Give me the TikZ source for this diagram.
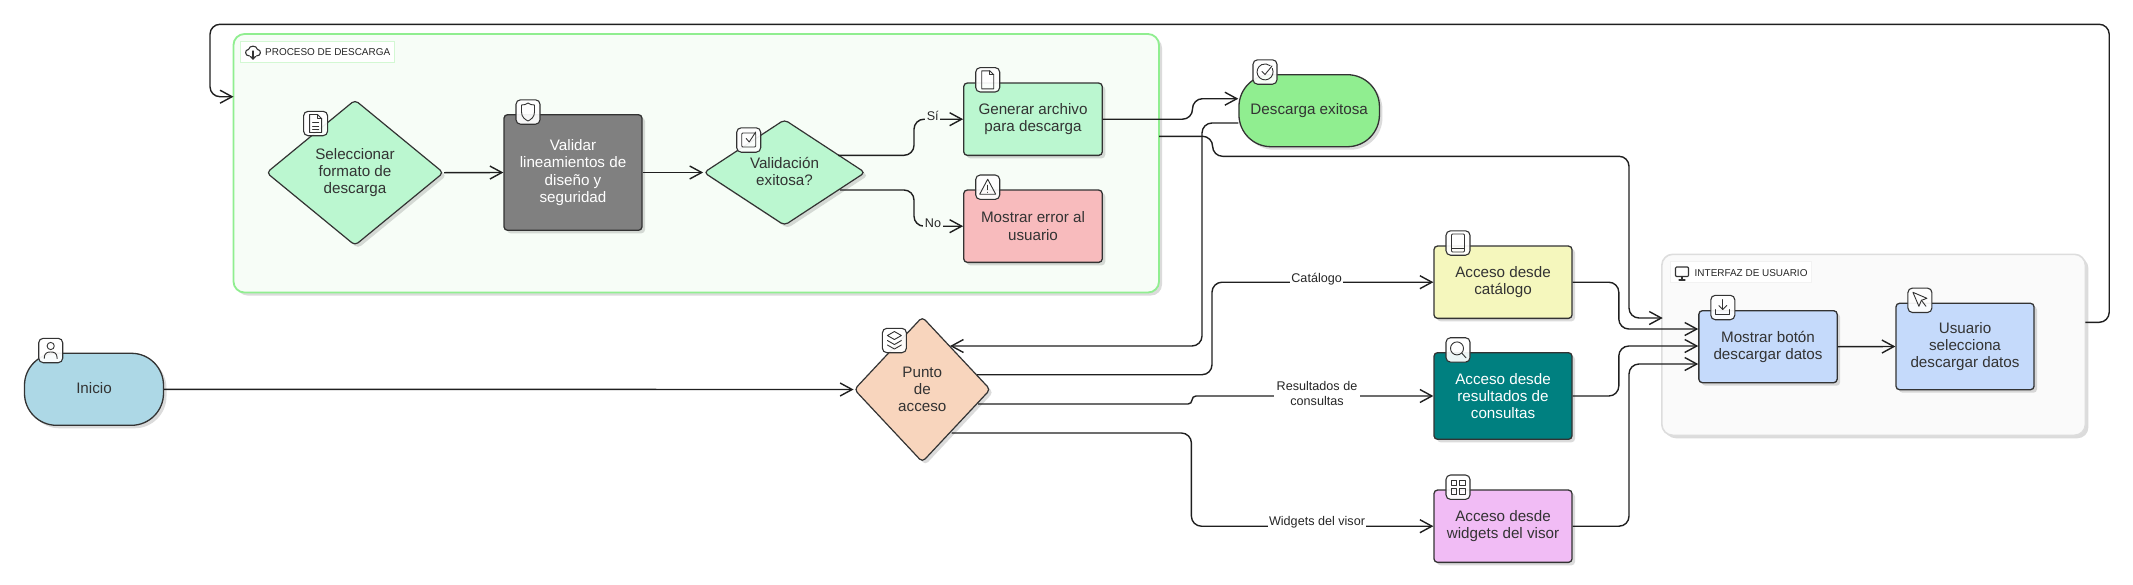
\documentclass[tikz,border=0pt]{standalone}
\usepackage{fontspec}
\setmainfont{Liberation Sans}
\usetikzlibrary{shapes.geometric,arrows.meta,shadows,calc}
\definecolor{ink}{HTML}{333333}
\definecolor{grpg}{HTML}{F7FDF7}
\definecolor{grpb}{HTML}{90EE90}
\definecolor{grph}{HTML}{FAFAFA}
\definecolor{grpe}{HTML}{DDDDDD}
\definecolor{mint}{HTML}{BBF7D0}
\definecolor{grayb}{HTML}{808080}
\definecolor{rosec}{HTML}{F8BBBD}
\definecolor{limec}{HTML}{90EE90}
\definecolor{lemon}{HTML}{F5F7BD}
\definecolor{tealc}{HTML}{008080}
\definecolor{orch}{HTML}{F1BCF5}
\definecolor{sky}{HTML}{C5DAFB}
\definecolor{peach}{HTML}{F8D5BD}
\definecolor{lblue}{HTML}{ADD8E6}
\tikzset{
 softshadow/.style={drop shadow={shadow xshift=3pt,shadow yshift=-3pt,opacity=.14,fill=black}},
 txt/.style={font=\fontsize{15.2}{17.3}\selectfont,text=ink,align=center,inner sep=0pt},
 boxn/.style={txt,draw=ink,line width=1.3pt,rounded corners=3.5pt,softshadow},
 stad/.style={boxn,rounded corners=32pt,minimum width=139pt,minimum height=72pt},
 dia/.style={txt,shape=diamond,draw=ink,line width=1.2pt,rounded corners=4pt,softshadow},
 badge/.style={draw=ink,line width=1.1pt,fill=white,fill opacity=.93,rounded corners=4.5pt,minimum width=24pt,minimum height=24.4pt,inner sep=0pt},
 grp/.style={rounded corners=11pt,softshadow},
 grplbl/.style={font=\fontsize{9.95}{12}\selectfont,text=black!85,inner sep=0pt,anchor=west},
 edge/.style={draw=black!88,line width=1.4pt,rounded corners=10pt},
 arr/.style={edge,-{Straight Barb[length=12pt,width=13pt,line width=1.4pt]}},
 elbl/.style={font=\fontsize{12.6}{15}\selectfont,text=black!85,align=center,inner sep=1.5pt,fill=white},
 ico/.style={draw=ink,line width=.9pt,line cap=round,line join=round}
}
\newcommand{\icon}[2]{\begin{scope}[shift={(#1)},ico]#2\end{scope}}
\begin{document}
\begin{tikzpicture}[x=1pt,y=-1pt]
\useasboundingbox (0,0) rectangle (2133,584);
% groups
\node[grp,draw=grpb,line width=1.8pt,fill=grpg,minimum width=925.5pt,minimum height=258.5pt,inner sep=0pt] (g1) at (696.25,163.25) {};
\node[grp,draw=grpe,line width=1.6pt,fill=grph,minimum width=423.6pt,minimum height=181pt,inner sep=0pt] (g2) at (1873.6,344.8) {};
\node[draw=grpb!40,fill=white,line width=.6pt,minimum width=154pt,minimum height=21pt,inner sep=0pt] (g1l) at (317,51.5) {};
\node[grplbl] (g1t) at (265,52) {PROCESO DE DESCARGA};
\node[draw=black!5,fill=white,line width=.6pt,minimum width=141.6pt,minimum height=20.6pt,inner sep=0pt] (g2l) at (1740.6,272) {};
\node[grplbl] (g2t) at (1694.5,273) {INTERFAZ DE USUARIO};
% nodes
\node[stad,fill=lblue,text depth=3pt] (ini) at (94,389.3) {Inicio};
\node[dia,fill=peach,minimum width=136.3pt,minimum height=145.4pt,aspect=.95] (pa) at (922.3,389.5) {Punto\\de\\acceso};
\node[dia,fill=mint,minimum width=177.2pt,minimum height=145.7pt,aspect=1.21] (d1) at (355,172.7) {Seleccionar\\formato de\\descarga};
\node[boxn,fill=grayb,text=white,minimum width=138pt,minimum height=115.6pt] (b2) at (573,172.5) {Validar\\lineamientos de\\diseño y\\seguridad};
\node[dia,fill=mint,minimum width=161.5pt,minimum height=106pt,aspect=1.52,text depth=2pt] (d3) at (784.5,172.5) {Validación\\exitosa?};
\node[boxn,fill=mint,minimum width=138.5pt,minimum height=72.3pt] (gen) at (1033,119.2) {Generar archivo\\para descarga};
\node[boxn,fill=rosec,minimum width=138.5pt,minimum height=72.3pt] (err) at (1033,226.2) {Mostrar error al\\usuario};
\node[stad,fill=limec,minimum width=140.5pt] (des) at (1309.2,110.7) {Descarga exitosa};
\node[boxn,fill=lemon,minimum width=138pt,minimum height=72.3pt] (cat) at (1503,282.2) {Acceso desde\\catálogo};
\node[boxn,fill=tealc,text=white,minimum width=138pt,minimum height=86.6pt] (res) at (1503,396) {Acceso desde\\resultados de\\consultas};
\node[boxn,fill=orch,minimum width=138pt,minimum height=72.3pt] (wid) at (1503,526.2) {Acceso desde\\widgets del visor};
\node[boxn,fill=sky,minimum width=138.3pt,minimum height=72pt] (btn) at (1768,346.7) {Mostrar botón\\descargar datos};
\node[boxn,fill=sky,minimum width=138pt,minimum height=86.4pt] (usr) at (1965,346.5) {Usuario\\selecciona\\descargar datos};
% free connector ends
\coordinate (d3a) at (838,155.3);
\coordinate (d3b) at (840,190);
\coordinate (paA) at (950,346);
\coordinate (paB) at (977,374.7);
\coordinate (paC) at (978,404);
\coordinate (paD) at (951.6,433);
\coordinate (g1r) at (1159,136.3);
\coordinate (g1a) at (233.5,96.7);
\coordinate (g2a) at (1662.7,318);
\coordinate (g2r) at (2085.4,322.3);
% connectors
\draw[arr] (ini.east) -- (pa.west);
\draw[arr] (d1.east) -- (b2.west);
\draw[arr] (b2.east) -- (d3.west);
\draw[arr] (d3a) -- (914,155.3) -- (914,119.2) -- (gen.west);
\draw[arr] (d3b) -- (914,190) -- (914,226.2) -- (err.west);
\draw[arr] (gen.east) -- (1192.5,119.2) -- (1192.5,98.7) -- (des.west |- 0,98.7);
\draw[arr] (des.west |- 0,123) -- (1202,123) -- (1202,346) -- (paA);
\draw[arr] (paB) -- (1212,374.7) -- (1212,282.2) -- (cat.west);
\draw[arr,rounded corners=4pt] (paC) -- (1192,404) -- (1192,396) -- (res.west);
\draw[arr] (paD) -- (1191.4,433) -- (1191.4,526.2) -- (wid.west);
\draw[arr] (g1r) -- (1212.6,136.3) -- (1212.6,156.3) -- (1629,156.3) -- (1629,318) -- (g2a);
\draw[arr] (cat.east) -- (1618.8,282.2) -- (1618.8,329) -- (btn.west |- 0,329);
\draw[arr] (res.east) -- (1618.8,396) -- (1618.8,346) -- (btn.west |- 0,346);
\draw[arr] (wid.east) -- (1629,526.2) -- (1629,364) -- (btn.west |- 0,364);
\draw[arr] (btn.east) -- (usr.west);
\draw[arr] (g2r) -- (2109.2,322.3) -- (2109.2,24.3) -- (210,24.3) -- (210,96.7) -- (g1a);
% edge labels
\node[elbl,fill=grpg] (ls) at (932.7,116) {Sí};
\node[elbl,fill=grpg] (ln) at (933,223) {No};
\node[elbl] (lc) at (1316.6,279) {Catálogo};
\node[elbl,inner xsep=3pt] (lr) at (1317,393) {Resultados de\\consultas};
\node[elbl] (lw) at (1317,522.7) {Widgets del visor};
% badges and icons
\node[badge] (bi) at (50.7,350.5) {};
\icon{bi.center}{\draw (0,-4.5) circle (3.6); \draw (-6.5,8) .. controls (-6.5,2) and (-3,1.5) .. (0,1.5) .. controls (3,1.5) and (6.5,2) .. (6.5,8);}
\node[badge] (bp) at (894.4,340.5) {};
\icon{bp.center}{\draw (0,-9) -- (7,-5) -- (0,-1) -- (-7,-5) -- cycle; \draw (-7,0) -- (0,4) -- (7,0); \draw (-7,4.5) -- (0,8.5) -- (7,4.5);}
\node[badge] (bd1) at (315.6,123.5) {};
\icon{bd1.center}{\draw (-6,-9) -- (2,-9) -- (6,-5) -- (6,9) -- (-6,9) -- cycle; \draw (2,-9) -- (2,-5) -- (6,-5); \draw (-3,-1) -- (3,-1); \draw (-3,2.5) -- (3,2.5); \draw (-3,6) -- (3,6);}
\node[badge] (bb2) at (528,112) {};
\icon{bb2.center}{\draw (0,-9) .. controls (-2,-7.5) and (-4,-7) .. (-6.5,-7) -- (-6.5,0) .. controls (-6.5,5) and (-3,7.5) .. (0,9) .. controls (3,7.5) and (6.5,5) .. (6.5,0) -- (6.5,-7) .. controls (4,-7) and (2,-7.5) .. (0,-9) -- cycle;}
\node[badge] (bd3) at (748.7,140) {};
\icon{bd3.center}{\draw[rounded corners=1pt] (-7,-7) rectangle (7,7); \draw (-2.5,-1.5) -- (0.5,2) -- (7,-8);}
\node[badge] (bg) at (987.7,79.8) {};
\icon{bg.center}{\draw (-6,-9) -- (2,-9) -- (6,-5) -- (6,9) -- (-6,9) -- cycle; \draw (2,-9) -- (2,-5) -- (6,-5);}
\node[badge] (be) at (987.7,187.2) {};
\icon{be.center}{\draw (0,-8) -- (8,7) -- (-8,7) -- cycle; \draw (0,-2) -- (0,2.5); \draw (0,5) -- (0,5.1);}
\node[badge] (bde) at (1265,72) {};
\icon{bde.center}{\draw (7.3,-3.5) arc (-25:310:8); \draw (-3,-0.5) -- (0,2.5) -- (7,-6);}
\node[badge] (bc) at (1458,243) {};
\icon{bc.center}{\draw[rounded corners=1pt] (-6.5,-9) rectangle (6.5,9); \draw (-6.5,5) -- (6.5,5);}
\node[badge] (br) at (1458,349.9) {};
\icon{br.center}{\draw (-1,-1.5) circle (6.5); \draw (3.8,3.2) -- (8,8);}
\node[badge] (bw) at (1458,487.2) {};
\icon{bw.center}{\draw (-7,-7) rectangle (-1.5,-1.5); \draw (1.5,-7) rectangle (7,-1.5); \draw (-7,1.5) rectangle (-1.5,7); \draw (1.5,1.5) rectangle (7,7);}
\node[badge] (bb) at (1722.8,307.5) {};
\icon{bb.center}{\draw (0,-8) -- (0,2); \draw (-4,-2) -- (0,2) -- (4,-2); \draw (-7,2) -- (-7,7) -- (7,7) -- (7,2);}
\node[badge] (bu) at (1919.9,300.3) {};
\icon{bu.center}{\draw (-7,-8) -- (7,-2) -- (1.5,0) -- (-1,6) -- cycle; \draw (1.5,0) -- (6,6);}
% group label icons
\coordinate (ci1) at (253,52);
\icon{ci1}{\draw[line width=1.1pt] (-3.5,4) .. controls (-8.5,4) and (-8.5,-2.5) .. (-4.5,-2.5) .. controls (-3.5,-7) and (3.5,-7) .. (4.5,-2.5) .. controls (8.5,-2.5) and (8.5,4) .. (3.5,4); \draw[line width=1.1pt] (0,-1) -- (0,7); \draw[line width=1.2pt] (-2.5,4.5) -- (0,7) -- (2.5,4.5);}
\coordinate (ci2) at (1682,273);
\icon{ci2}{\draw[rounded corners=1pt,line width=1.1pt] (-6.5,-6) rectangle (6.5,3.5); \draw[line width=1.1pt] (0,3.5) -- (0,7); \draw[line width=1.1pt] (-3,7) -- (3,7);}
\end{tikzpicture}
\end{document}
